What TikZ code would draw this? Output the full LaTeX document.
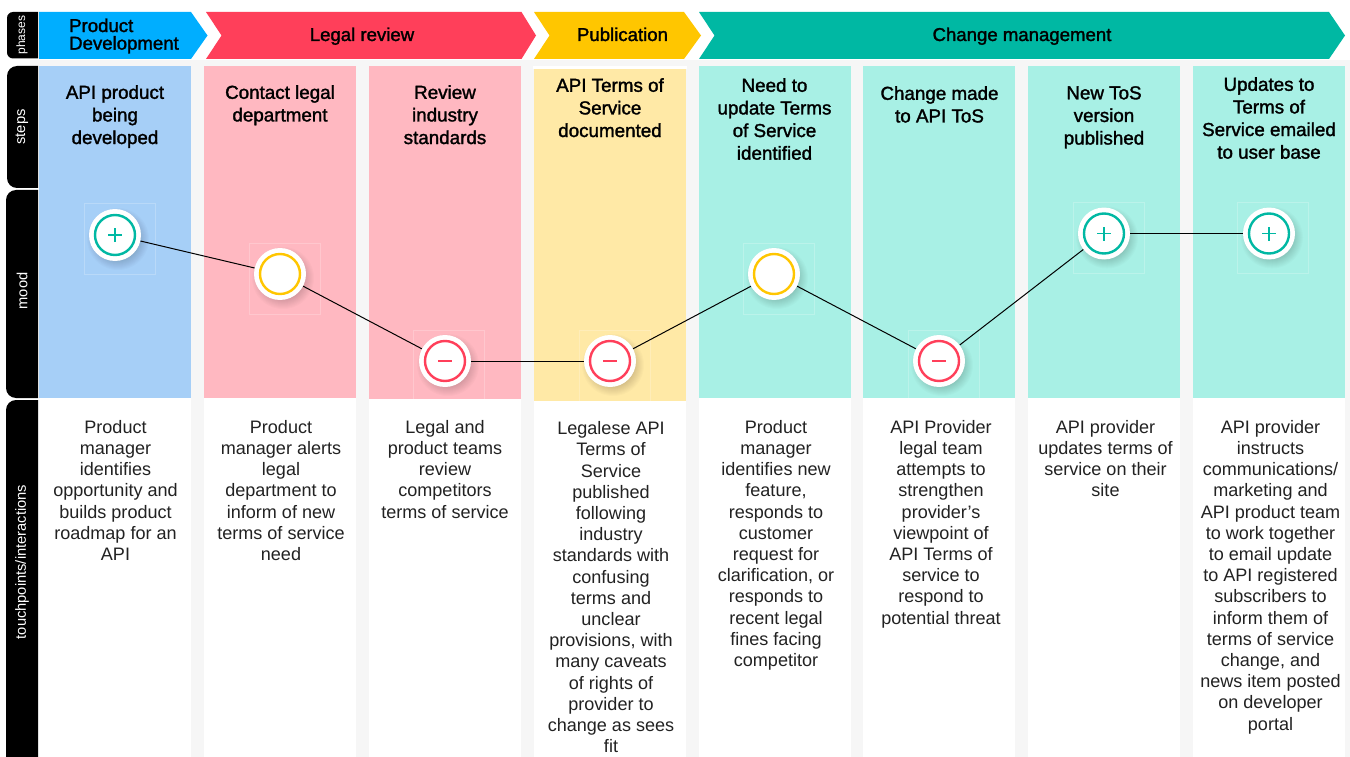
\documentclass[tikz,border=0pt]{standalone}
\usepackage{fontspec}
\setmainfont{Liberation Sans}
\newfontfamily\medf[FakeBold=1.6]{Liberation Sans}
\definecolor{phblue}{HTML}{00AEFF}
\definecolor{phred}{HTML}{FF3F5A}
\definecolor{phyel}{HTML}{FFC600}
\definecolor{phteal}{HTML}{00B8A3}
\definecolor{cblue}{HTML}{A6CFF7}
\definecolor{cred}{HTML}{FFB8C1}
\definecolor{cyel}{HTML}{FFE9A6}
\definecolor{cteal}{HTML}{A8F0E5}
\definecolor{gutter}{HTML}{F6F6F6}
\definecolor{bodyc}{HTML}{222222}
\tikzset{
  x=1pt,y=-1pt,
  sidebar/.style={fill=black},
  sidelabel/.style={text=white,rotate=90,inner sep=0pt},
  phasetext/.style={inner sep=0pt,align=center,anchor=base,text=black,font=\medf\fontsize{18.6}{17.6}\selectfont},
  steptext/.style={inner sep=0pt,align=center,anchor=north,text=black,font=\medf\fontsize{18.8}{22.6}\selectfont},
  bodytext/.style={inner sep=0pt,align=center,anchor=north,text=bodyc,font=\fontsize{18.05}{21.2}\selectfont},
  moodnode/.style={circle,fill=white,minimum size=52pt,inner sep=0pt},
  faintsq/.style={draw=white,draw opacity=0.22,line width=0.5pt},
  link/.style={draw=black,line width=1pt},
  ring/.style={line width=2.4pt},
  glyph/.style={line width=1.7pt}
}
\newcommand{\shadowat}[2]{%
  \foreach \r in {22,23,...,31}{\fill[black,opacity=0.014] (#1+3,#2+4) circle (\r);}}
\newcommand{\moodbase}[6]{% name x y color sqx sqy
  \draw[faintsq] (#5,#6) rectangle ++(71,71);
  \shadowat{#2}{#3}
  \node[moodnode] (#1) at (#2,#3) {};
  \draw[#4,ring] (#1.center) circle (20);}
\newcommand{\plusglyph}[1]{\draw[phteal,glyph] ([xshift=-7pt]#1.center) -- ([xshift=7pt]#1.center) ([yshift=-7pt]#1.center) -- ([yshift=7pt]#1.center);}
\newcommand{\minusglyph}[1]{\draw[phred,glyph] ([xshift=-7pt]#1.center) -- ([xshift=7pt]#1.center);}
\begin{document}
\begin{tikzpicture}
\useasboundingbox (0,0) rectangle (1350,757);
\fill[white] (0,0) rectangle (1350,757);
% gutters
\fill[gutter] (30,60) rectangle (1350,66);
\foreach \a/\b in {191/204,356/369,521/534,686/698.5,851/863,1015/1028,1180/1193,1345/1350}{
  \fill[gutter] (\a,60) rectangle (\b,757);}
% column colours
\fill[white] (533,66) rectangle (687,69);
\node[fill=cblue,minimum width=152pt,minimum height=332pt,inner sep=0pt,anchor=north west] (c1) at (39,66) {};
\node[fill=cred,minimum width=152pt,minimum height=332pt,inner sep=0pt,anchor=north west] (c2) at (204,66) {};
\node[fill=cred,minimum width=152pt,minimum height=333pt,inner sep=0pt,anchor=north west] (c3) at (369,66) {};
\node[fill=cyel,minimum width=152pt,minimum height=332pt,inner sep=0pt,anchor=north west] (c4) at (534,69) {};
\node[fill=cteal,minimum width=152.5pt,minimum height=332pt,inner sep=0pt,anchor=north west] (c5) at (698.5,66) {};
\node[fill=cteal,minimum width=152pt,minimum height=332pt,inner sep=0pt,anchor=north west] (c6) at (863,66) {};
\node[fill=cteal,minimum width=152pt,minimum height=332pt,inner sep=0pt,anchor=north west] (c7) at (1028,66) {};
\node[fill=cteal,minimum width=152pt,minimum height=332pt,inner sep=0pt,anchor=north west] (c8) at (1193,66) {};
% side bars
\fill[sidebar] (38,12) -- (38,58.5) -- (13,58.5) arc[start angle=90,end angle=180,radius=6] -- (7,18) arc[start angle=180,end angle=270,radius=6] -- cycle;
\fill[sidebar] (38,66) -- (38,188) -- (17,188) arc[start angle=90,end angle=180,radius=10] -- (7,76) arc[start angle=180,end angle=270,radius=10] -- cycle;
\fill[sidebar] (38,190) -- (38,398) -- (16,398) arc[start angle=90,end angle=180,radius=10] -- (6,200) arc[start angle=180,end angle=270,radius=10] -- cycle;
\fill[sidebar] (38,400) -- (38,757) -- (6,757) -- (6,410) arc[start angle=180,end angle=270,radius=10] -- cycle;
\node[sidelabel,font=\fontsize{12}{12}\selectfont] (lphases) at (22,35) {phases};
\node[sidelabel,font=\fontsize{14.7}{15}\selectfont] (lsteps) at (22,127) {steps};
\node[sidelabel,font=\fontsize{14.7}{15}\selectfont] (lmood) at (22,291) {mood};
\node[sidelabel,font=\fontsize{14.7}{15}\selectfont] (ltouch) at (22,562) {touchpoints/interactions};
% phases
\fill[phblue] (39,12) -- (191,12) -- (207.5,35.5) -- (191,59) -- (39,59) -- cycle;
\fill[phred] (206,12) -- (521.5,12) -- (536,35.5) -- (521.5,59) -- (206,59) -- (221.5,35.5) -- cycle;
\fill[phyel] (534,12) -- (684,12) -- (701,35.5) -- (684,59) -- (534,59) -- (549.5,35.5) -- cycle;
\fill[phteal] (699,12) -- (1329,12) -- (1345,35.5) -- (1329,59) -- (699,59) -- (714.5,35.5) -- cycle;
\node[phasetext,align=left,anchor=west] (p1) at (69,36) {Product\\Development};
\node[phasetext] (p2) at (362,41) {Legal review};
\node[phasetext] (p3) at (622.5,41) {Publication};
\node[phasetext] (p4) at (1022,41) {Change management};
% step titles
\node[steptext] (s1) at (115,85) {API product\\being\\developed};
\node[steptext] (s2) at (280,85) {Contact legal\\department};
\node[steptext] (s3) at (445,85) {Review\\industry\\standards};
\node[steptext] (s4) at (610,78) {API Terms of\\Service\\documented};
\node[steptext] (s5) at (774.5,78) {Need to\\update Terms\\of Service\\identified};
\node[steptext] (s6) at (939.5,86) {Change made\\to API ToS};
\node[steptext] (s7) at (1104,86) {New ToS\\version\\published};
\node[steptext] (s8) at (1269,77) {Updates to\\Terms of\\Service emailed\\to user base};
% touchpoints
\node[bodytext] (b1) at (115.5,420) {Product\\manager\\identifies\\opportunity and\\builds product\\roadmap for an\\API};
\node[bodytext] (b2) at (281,420) {Product\\manager alerts\\legal\\department to\\inform of new\\terms of service\\need};
\node[bodytext] (b3) at (445,420) {Legal and\\product teams\\review\\competitors\\terms of service};
\node[bodytext] (b4) at (611,421.5) {Legalese API\\Terms of\\Service\\published\\following\\industry\\standards with\\confusing\\terms and\\unclear\\provisions, with\\many caveats\\of rights of\\provider to\\change as sees\\fit};
\node[bodytext] (b5) at (776,420) {Product\\manager\\identifies new\\feature,\\responds to\\customer\\request for\\clarification, or\\responds to\\recent legal\\fines facing\\competitor};
\node[bodytext] (b6) at (941,420) {API Provider\\legal team\\attempts to\\strengthen\\provider's\\viewpoint of\\API Terms of\\service to\\respond to\\potential threat};
\node[bodytext] (b7) at (1105.5,420) {API provider\\updates terms of\\service on their\\site};
\node[bodytext] (b8) at (1270.5,420) {API provider\\instructs\\communications/\\marketing and\\API product team\\to work together\\to email update\\to API registered\\subscribers to\\inform them of\\terms of service\\change, and\\news item posted\\on developer\\portal};
% mood markers
\moodbase{m1}{115}{235}{phteal}{84}{203}\plusglyph{m1}
\moodbase{m2}{280}{274}{phyel}{249}{243}
\moodbase{m3}{445}{361}{phred}{413}{330}\minusglyph{m3}
\moodbase{m4}{610}{361}{phred}{579}{330}\minusglyph{m4}
\moodbase{m5}{774}{274}{phyel}{743}{243}
\moodbase{m6}{939}{361}{phred}{908}{330}\minusglyph{m6}
\moodbase{m7}{1104}{233.5}{phteal}{1073}{202}\plusglyph{m7}
\moodbase{m8}{1269}{233.5}{phteal}{1237}{202}\plusglyph{m8}
\draw[link] (m1) -- (m2);
\draw[link] (m2) -- (m3);
\draw[link] (m3) -- (m4);
\draw[link] (m4) -- (m5);
\draw[link] (m5) -- (m6);
\draw[link] (m6) -- (m7);
\draw[link] (m7) -- (m8);
\end{tikzpicture}
\end{document}
